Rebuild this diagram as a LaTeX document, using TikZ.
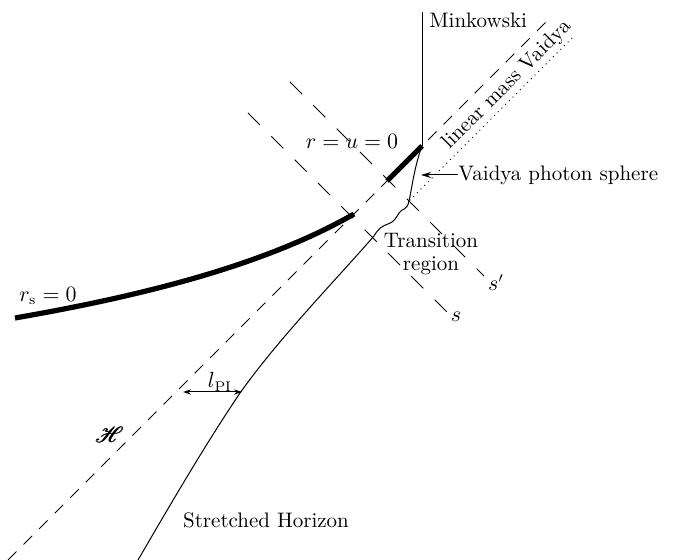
\documentclass[tikz,border=0pt]{standalone}
\usepackage{amsmath}
\usepackage{mathrsfs}
\usetikzlibrary{arrows.meta}
\begin{document}
\begin{tikzpicture}[x=0.5pt,y=-0.5pt,
  thinline/.style={line width=0.5pt},
  thickline/.style={line width=2.6pt},
  hordash/.style={line width=0.5pt, dash pattern=on 6pt off 5pt},
  sdash/.style={line width=0.5pt, dash pattern=on 8.5pt off 8pt},
  dotline/.style={line width=0.7pt, dash pattern=on 0pt off 2.6pt, line cap=round},
  lbl/.style={font=\fontsize{10.5}{12.6}\selectfont, inner sep=0pt},
  arr/.style={thinline, -{Stealth[length=5pt,width=3pt]}},
  darr/.style={thinline, {Stealth[length=4pt,width=2.6pt]}-{Stealth[length=4pt,width=2.6pt]}}]
\useasboundingbox (0,0) rectangle (680,560);
% key points
\coordinate (hb) at (8,560);
\coordinate (ht) at (550,18);
\coordinate (tA) at (387,181);
\coordinate (tB) at (422,146);
\coordinate (mk) at (422,12);
\coordinate (rs0) at (15,318);
\coordinate (rs1) at (354,214);
\coordinate (s0) at (248,113);
\coordinate (s1) at (447,312);
\coordinate (sp0) at (290,82);
\coordinate (sp1) at (484,276);
\coordinate (d0) at (410,200);
\coordinate (d1) at (574,36);
\coordinate (ptip) at (421,175);
\coordinate (la) at (183,392);
\coordinate (lb) at (242,392);
\coordinate (sh0) at (138,560);
\coordinate (sh1) at (240,393);
\coordinate (sh2) at (374,236);
\coordinate (sh3) at (409,201);
% horizon and null lines
\draw[hordash] (hb) -- (ht);
\draw[sdash] (s0) -- (s1);
\draw[sdash] (sp0) -- (sp1);
\draw[dotline] (d0) -- (d1);
% Minkowski line
\draw[thinline] (mk) -- (tB);
% singularities
\draw[thickline] (tA) -- (tB);
\draw[thickline] (rs0) .. controls (130,298) and (260,268) .. (rs1);
% stretched horizon
\draw[thinline] (sh0) .. controls (173,500) and (205,445) .. (sh1)
  .. controls (280,337) and (334,282) .. (sh2);
\draw[thinline] (sh2) .. controls (378,229) and (382,226) .. (388,224)
  .. controls (394,222) and (396,218) .. (399,213)
  .. controls (402,208) and (407,211) .. (sh3);
\draw[thinline] (sh3) .. controls (412,188) and (414,168) .. (tB);
% labels
\node[lbl, anchor=west] (mink) at (429,20) {Minkowski};
\node[lbl, rotate=45] (lmv) at (507,85) {linear mass Vaidya};
\node[lbl, anchor=west] (vps) at (458,175) {Vaidya photon sphere};
\draw[arr] (vps.west) -- (ptip);
\node[lbl] (ruz) at (352,141) {$r=u=0$};
\node[lbl] (rs) at (48,296) {$r_{\mathrm{s}}=0$};
\node[lbl, align=center] (trans) at (431,254) {Transition\\[-1pt]region};
\node[lbl] (spl) at (496,283) {$s'$};
\node[lbl] (sl) at (456,317) {$s$};
\node[lbl] (lpi) at (220,382) {$l_{\mathrm{PI}}$};
\draw[darr] (la) -- (lb);
\node[lbl] (H) at (110,435) {$\pmb{\mathscr{H}}$};
\node[lbl] (stretch) at (266,520) {Stretched Horizon};
\end{tikzpicture}
\end{document}
